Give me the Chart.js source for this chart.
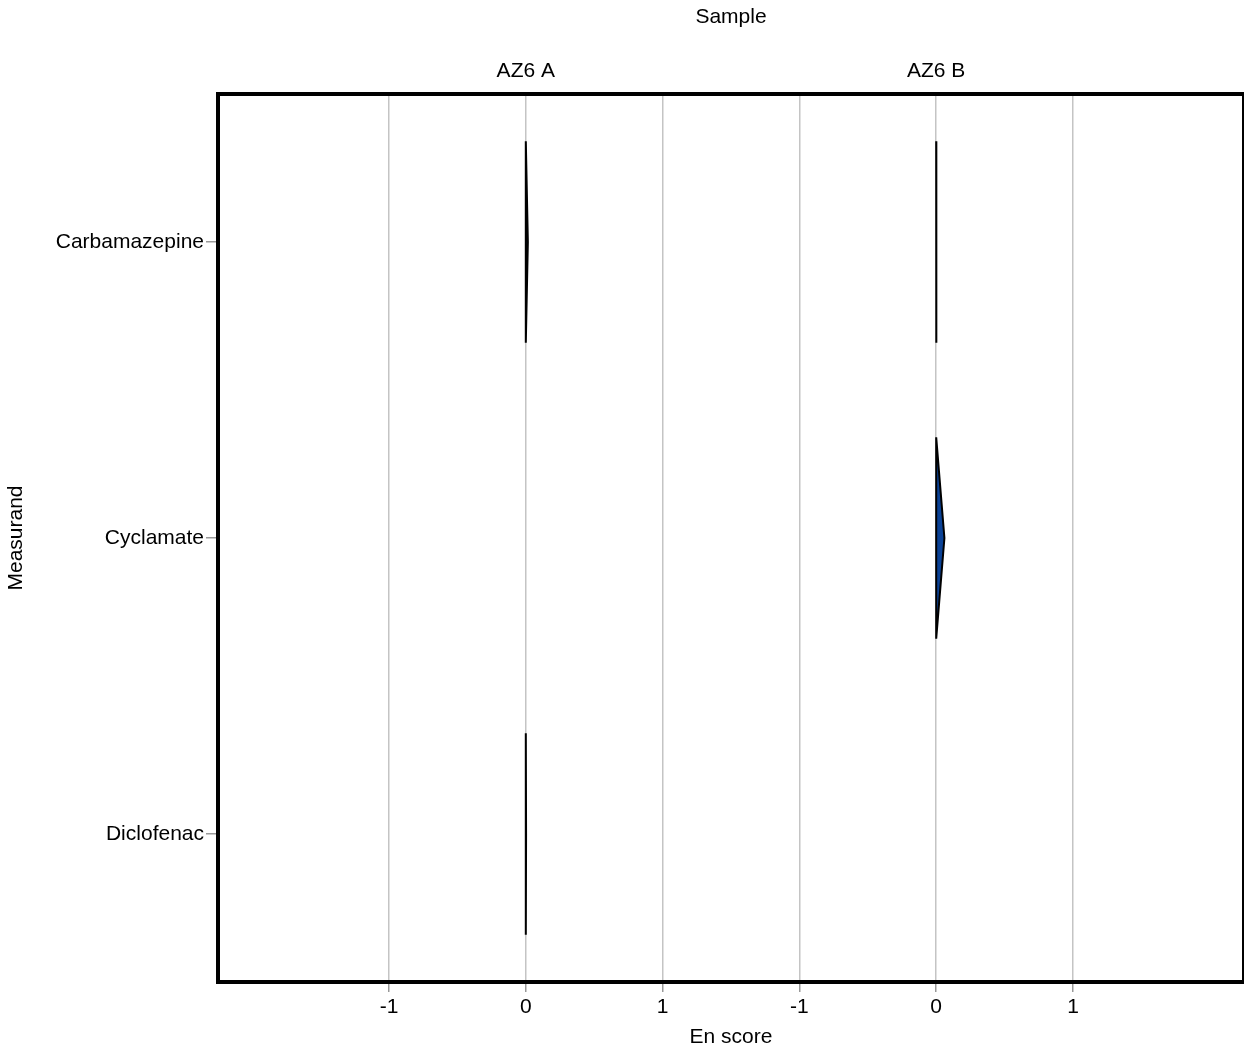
<!DOCTYPE html>
<html>
<head>
<meta charset="utf-8">
<title>En score by measurand</title>
<script src="https://cdn.jsdelivr.net/npm/chart.js@4.4.1/dist/chart.umd.min.js"></script>
<style>
    body { margin: 0; background: #fff; }
    #wrap { width: 1244px; height: 1050px; }
</style>
</head>
<body>
<div id="wrap"><canvas id="enChart" width="1244" height="1050"></canvas></div>
<script>
const samples = ["AZ6 A", "AZ6 B"];
const measurands = ["Carbamazepine", "Cyclamate", "Diclofenac"];
const tickValues = [-1, 0, 1];

// En score (violin centre) per measurand, one array per sample
const enScoresA = [0, null, 0];
const enScoresB = [0, 0, null];

// peak density width of each half violin, in En units
const densityA = [0.015, null, 0.002];
const densityB = [0.003, 0.06, null];

const PANEL_SHIFT = 3;
const HALF_HEIGHT = 0.34;
const FONT = "'Liberation Sans', Arial, sans-serif";

function violinPoints(center, width, row) {
    return [
        { x: center, y: row - HALF_HEIGHT },
        { x: center + width, y: row },
        { x: center, y: row + HALF_HEIGHT },
        { x: center, y: row - HALF_HEIGHT }
    ];
}

function buildDatasets() {
    const datasets = [];
    const perSample = [
        { scores: enScoresA, widths: densityA },
        { scores: enScoresB, widths: densityB }
    ];
    perSample.forEach((s, si) => {
        measurands.forEach((m, mi) => {
            if (s.scores[mi] === null) return;
            datasets.push({
                label: samples[si] + " " + m,
                data: violinPoints(s.scores[mi] + si * PANEL_SHIFT, s.widths[mi], mi),
                showLine: true,
                fill: "shape",
                backgroundColor: "#0b4296",
                borderColor: "#000",
                borderWidth: 2,
                pointRadius: 0,
                tension: 0
            });
        });
    });
    return datasets;
}

const xTickPositions = [];
samples.forEach((s, si) => tickValues.forEach(v => xTickPositions.push(v + si * PANEL_SHIFT)));

const frame = {
    id: "frame",
    afterDraw(chart) {
        const { ctx, chartArea: a } = chart;
        ctx.save();
        ctx.strokeStyle = "#000";
        ctx.lineWidth = 4;
        ctx.strokeRect(a.left, a.top, a.right - a.left, a.bottom - a.top);
        ctx.restore();
    }
};

const axisFont = { family: FONT, size: 21 };

new Chart(document.getElementById("enChart"), {
    type: "scatter",
    data: { datasets: buildDatasets() },
    options: {
        responsive: false,
        animation: false,
        layout: { padding: { left: 0, right: 0, top: 0, bottom: 0 } },
        plugins: { legend: { display: false }, tooltip: { enabled: false } },
        scales: {
            x: {
                type: "linear",
                position: "bottom",
                min: -2.25,
                max: 5.25,
                afterBuildTicks: scale => { scale.ticks = xTickPositions.map(v => ({ value: v })); },
                afterFit: scale => { scale.height = 68; },
                ticks: {
                    color: "#000",
                    font: axisFont,
                    padding: 3,
                    maxRotation: 0,
                    callback: v => String(v >= PANEL_SHIFT / 2 ? v - PANEL_SHIFT : v)
                },
                grid: {
                    color: "#c4c4c4",
                    lineWidth: 1.5,
                    tickColor: "#999",
                    tickLength: 10
                },
                border: { display: false },
                title: { display: true, text: "En score", color: "#000", font: axisFont, padding: { top: 2, bottom: 0 } }
            },
            x2: {
                type: "linear",
                position: "top",
                min: -2.25,
                max: 5.25,
                afterBuildTicks: scale => { scale.ticks = samples.map((s, i) => ({ value: i * PANEL_SHIFT })); },
                afterFit: scale => { scale.height = 94; },
                ticks: {
                    color: "#000",
                    font: axisFont,
                    padding: 10,
                    maxRotation: 0,
                    callback: v => samples[Math.round(v / PANEL_SHIFT)]
                },
                grid: { display: false, drawTicks: false },
                border: { display: false },
                title: { display: true, text: "Sample", color: "#000", font: axisFont, padding: { top: 5, bottom: 0 } }
            },
            y: {
                type: "linear",
                min: -0.5,
                max: 2.5,
                reverse: true,
                afterBuildTicks: scale => { scale.ticks = measurands.map((m, i) => ({ value: i })); },
                afterFit: scale => { scale.width = 218; },
                ticks: {
                    color: "#000",
                    font: axisFont,
                    padding: 2,
                    callback: v => measurands[v]
                },
                grid: {
                    drawOnChartArea: false,
                    tickColor: "#999",
                    tickLength: 12,
                    lineWidth: 1.5
                },
                border: { display: false },
                title: { display: true, text: "Measurand", color: "#000", font: axisFont, padding: { top: 4, bottom: 0 } }
            }
        }
    },
    plugins: [frame]
});
</script>
</body>
</html>
